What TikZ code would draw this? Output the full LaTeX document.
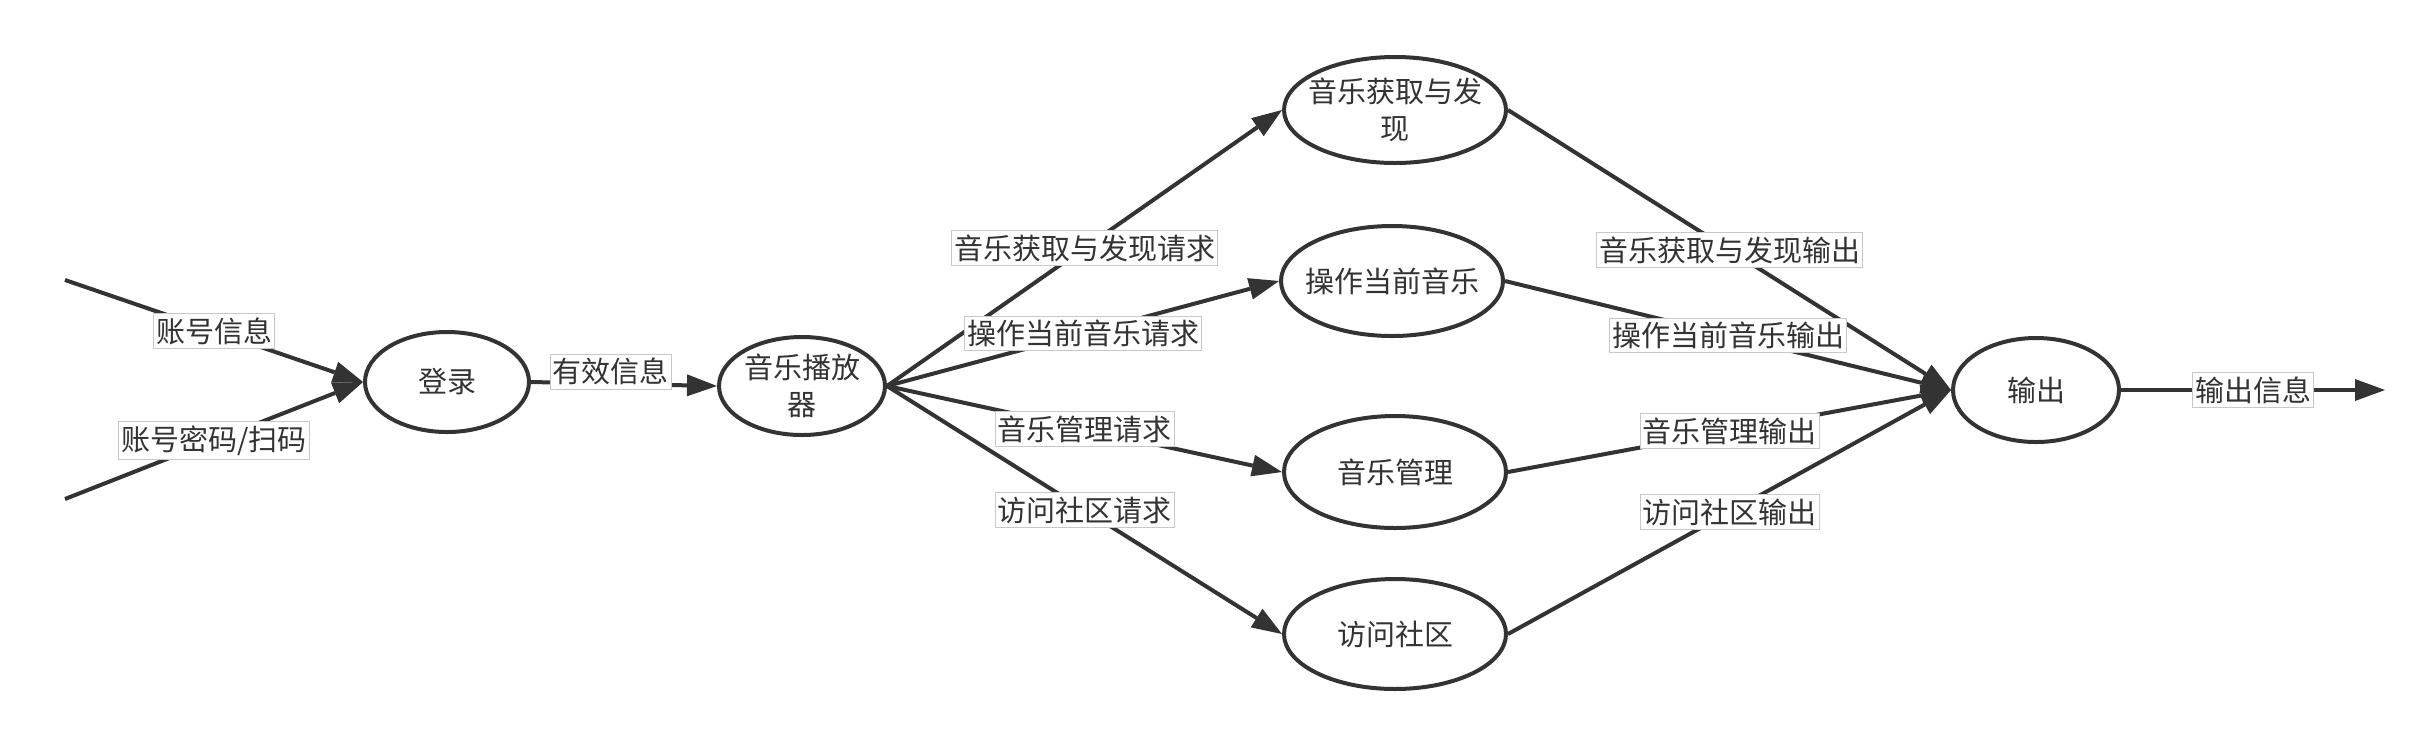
\documentclass[tikz,border=0pt]{standalone}
\usepackage{fontspec}
\setmainfont{Noto Sans CJK SC}
\usetikzlibrary{shapes.geometric,arrows.meta}
\definecolor{ink}{HTML}{333333}
\definecolor{lblline}{HTML}{C8C8C8}
\newcommand{\zw}[1]{\makebox[0pt]{#1}}
\begin{document}
\begin{tikzpicture}[x=1pt,y=-1pt,
  proc/.style={ellipse, draw=ink, line width=4pt, fill=white, inner sep=0pt, align=center, text=ink, font=\fontsize{29}{37}\selectfont},
  flow/.style={draw=ink, line width=4pt, -{Triangle[length=30pt,width=22pt,line width=0pt]}},
  lbl/.style={fill=white, draw=lblline, line width=1pt, inner xsep=2.5pt, inner ysep=4pt, text=ink, font=\fontsize{29}{35}\selectfont},
]
\useasboundingbox (0,0) rectangle (2424,740);
\node[proc, minimum width=164pt, minimum height=100pt] (login) at (447,382) {\zw{登录}};
\node[proc, minimum width=166pt, minimum height=98pt] (player) at (802,386) {\zw{音乐播放}\\\zw{器}};
\node[proc, minimum width=222pt, minimum height=106pt] (find) at (1395,110) {\zw{音乐获取与发}\\\zw{现}};
\node[proc, minimum width=222pt, minimum height=110pt] (op) at (1392,281) {\zw{操作当前音乐}};
\node[proc, minimum width=222pt, minimum height=112pt] (mgmt) at (1395,472) {\zw{音乐管理}};
\node[proc, minimum width=222pt, minimum height=110pt] (comm) at (1395,634) {\zw{访问社区}};
\node[proc, minimum width=166pt, minimum height=104pt] (out) at (2036,390) {\zw{输出}};
\coordinate (in1) at (65,280);
\coordinate (in2) at (65,499);
\coordinate (end) at (2385,390);

\draw[flow] (in1) -- node[lbl] {账号信息} (login.west);
\draw[flow] (in2) -- node[lbl] {账号密码/扫码} (login.west);
\draw[flow] (login.east) -- node[lbl, pos=0.43, yshift=12pt] {有效信息} (player.west);

\draw[flow] (player.east) -- node[lbl] {音乐获取与发现请求} (find.west);
\draw[flow] (player.east) -- node[lbl] {操作当前音乐请求} (op.west);
\draw[flow] (player.east) -- node[lbl] {音乐管理请求} (mgmt.west);
\draw[flow] (player.east) -- node[lbl] {访问社区请求} (comm.west);

\draw[flow] (find.east) -- node[lbl] {音乐获取与发现输出} (out.west);
\draw[flow] (op.east) -- node[lbl] {操作当前音乐输出} (out.west);
\draw[flow] (mgmt.east) -- node[lbl] {音乐管理输出} (out.west);
\draw[flow] (comm.east) -- node[lbl] {访问社区输出} (out.west);

\draw[flow] (out.east) -- node[lbl] {输出信息} (end);
\end{tikzpicture}
\end{document}
